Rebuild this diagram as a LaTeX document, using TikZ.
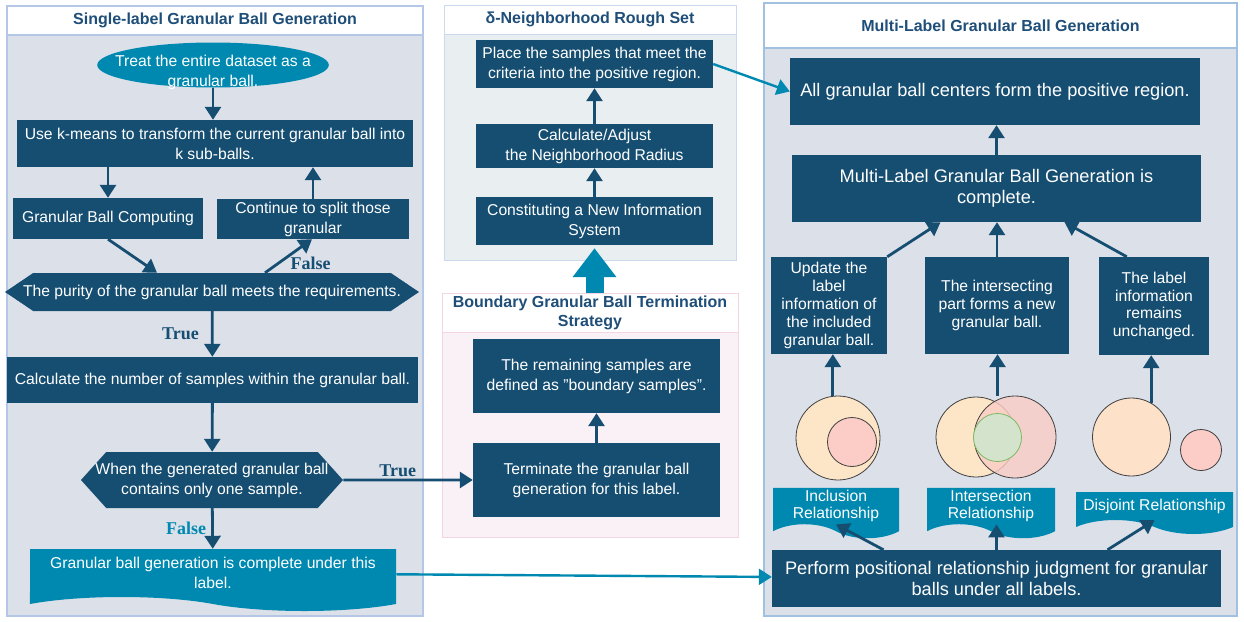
\documentclass[tikz,border=0pt]{standalone}
\usepackage{fontspec}
\setmainfont{Liberation Sans}
\newfontfamily\tfserif{Liberation Serif}
\usetikzlibrary{shapes.geometric,shapes.symbols,arrows.meta}
\definecolor{navy}{RGB}{22,78,114}
\definecolor{sea}{RGB}{0,137,176}
\definecolor{titleblue}{RGB}{31,78,121}
\definecolor{panelgray}{RGB}{220,224,233}
\definecolor{panelmist}{RGB}{233,238,240}
\definecolor{panelpink}{RGB}{250,241,247}
\definecolor{lineblue}{RGB}{180,199,231}
\definecolor{linepink}{RGB}{242,214,228}
\definecolor{peach}{RGB}{253,229,200}
\definecolor{rose}{RGB}{251,205,198}
\definecolor{mint}{RGB}{212,228,204}
\definecolor{leaf}{RGB}{125,184,97}
\newcommand\boxfont{\fontsize{15.7}{20}\selectfont}
\newcommand\smallboxfont{\fontsize{15.7}{17.8}\selectfont}
\newcommand\bigboxfont{\fontsize{18.2}{21}\selectfont}
\newcommand\titlefont{\bfseries\fontsize{16}{19}\selectfont}
\tikzset{
  lab/.style={font=\tfserif\bfseries\fontsize{18}{18}\selectfont, text=navy, inner sep=2pt},
  hexa/.style={signal, signal to=west and east, inner xsep=-12pt},
  doc/.style={tape, tape bend top=none, tape bend bottom=out and in, tape bend height=14pt},
  ball/.style={circle, draw=black!75, line width=0.8pt, inner sep=0pt}
}
\begin{document}
\begin{tikzpicture}[x=1pt,y=-1pt]
  \useasboundingbox (0,0) rectangle (1244,621);
  \filldraw[draw=lineblue, fill=panelgray, line width=1.5pt] (7,6) rectangle (423,616);
  \filldraw[draw=lineblue!70, fill=panelmist, line width=1pt] (444,5) rectangle (736,260);
  \filldraw[draw=linepink, fill=panelpink, line width=1pt] (442,293) rectangle (738,537);
  \filldraw[draw=lineblue!90!sea, fill=panelgray, line width=1.5pt] (764,3) rectangle (1237,616);
  \begin{scope}[every node/.style={fill=white, text=titleblue, font=\titlefont, align=center, inner sep=0pt}]
  \node[draw=lineblue, line width=1.5pt, minimum width=416pt, minimum height=29pt] (ta) at (215,20.5) {Single-label Granular Ball Generation};
  \node[draw=lineblue!70, line width=1pt, minimum width=292pt, minimum height=29pt] (tb) at (590,19.5) {δ-Neighborhood Rough Set};
  \node[draw=linepink, line width=1pt, minimum width=296pt, minimum height=39pt] (tc) at (590,312.5) {Boundary Granular Ball Termination\\Strategy};
  \node[draw=lineblue!90!sea, line width=1.5pt, minimum width=473pt, minimum height=45pt] (td) at (1000.5,25.5) {Multi-Label Granular Ball Generation};
  \end{scope}
  \begin{scope}[every node/.style={fill=navy, text=white, font=\boxfont, align=center, inner sep=2pt}]
  \node[ellipse, fill=sea, inner xsep=-16pt, inner ysep=0pt, minimum width=230pt, minimum height=45pt] (a) at (213,65) {\raisebox{-11pt}[0pt][0pt]{\begin{tabular}{@{}c@{}}Treat the entire dataset as a\\granular ball.\end{tabular}}};
  \node[minimum width=396pt, minimum height=47pt] (b) at (215,143.5) {Use k-means to transform the current granular ball into\\k sub-balls.};
  \node[minimum width=190pt, minimum height=41pt] (c) at (108,218.5) {Granular Ball Computing};
  \node[minimum width=192pt, minimum height=40pt] (d) at (313,219) {Continue to split those\\granular};
  \node[hexa, signal pointer angle=68, minimum width=414pt, minimum height=38pt] (e) at (212,292) {The purity of the granular ball meets the requirements.};
  \node[minimum width=411pt, minimum height=46pt] (f) at (212.5,380) {Calculate the number of samples within the granular ball.};
  \node[hexa, signal pointer angle=96, minimum width=262pt, minimum height=56pt] (g) at (212,480) {When the generated granular ball\\contains only one sample.};
  \node[doc, fill=sea, minimum width=366pt, minimum height=62pt] (h) at (213,573) {Granular ball generation is complete under this\\label.};
  \node[minimum width=237pt, minimum height=48pt] (i) at (594.5,64) {Place the samples that meet the\\criteria into the positive region.};
  \node[minimum width=237pt, minimum height=44pt] (j) at (594.5,146) {Calculate/Adjust\\the Neighborhood Radius};
  \node[minimum width=237pt, minimum height=48pt] (k) at (594.5,221) {Constituting a New Information\\System};
  \node[minimum width=247pt, minimum height=74pt] (l) at (596.5,376) {The remaining samples are\\defined as "boundary samples".};
  \node[minimum width=247pt, minimum height=74pt] (m) at (596.5,480) {Terminate the granular ball\\generation for this label.};
  \node[font=\bigboxfont, minimum width=410pt, minimum height=67pt] (n) at (995,91.5) {All granular ball centers form the positive region.};
  \node[font=\bigboxfont, minimum width=409pt, minimum height=67pt] (o) at (996.5,188.5) {Multi-Label Granular Ball Generation is\\complete.};
  \node[font=\smallboxfont, minimum width=116pt, minimum height=97pt] (p) at (829,305.5) {Update the\\label\\information of\\the included\\granular ball.};
  \node[font=\smallboxfont, minimum width=144pt, minimum height=97pt] (q) at (997,305.5) {The intersecting\\part forms a new\\granular ball.};
  \node[font=\smallboxfont, minimum width=110pt, minimum height=98pt] (r) at (1154,306) {The label\\information\\remains\\unchanged.};
  \node[doc, fill=sea, font=\smallboxfont, minimum width=126pt, minimum height=42pt] (s) at (836,506) {Inclusion\\Relationship};
  \node[doc, fill=sea, font=\smallboxfont, minimum width=128pt, minimum height=42pt] (t) at (991,506) {Intersection\\Relationship};
  \node[doc, fill=sea, minimum width=157pt, minimum height=42pt] (u) at (1154.5,506) {Disjoint Relationship};
  \node[font=\bigboxfont, minimum width=449pt, minimum height=57pt] (v) at (996.5,578.5) {Perform positional relationship judgment for granular\\balls under all labels.};
  \end{scope}
  \begin{scope}[every node/.style={ball}]
  \node[fill=peach, minimum size=84pt] (w1) at (838,438) {};
  \node[fill=rose, minimum size=49pt] (w2) at (852,442) {};
  \node[fill=peach, minimum size=80pt] (x1) at (976,437) {};
  \node[fill=rose, fill opacity=0.8, minimum size=82pt] (x2) at (1015,437) {};
  \node[fill=mint, draw=leaf, minimum size=48pt] (x3) at (997.5,437.5) {};
  \node[fill=peach!85!rose, minimum size=78pt] (y1) at (1131.5,437) {};
  \node[fill=rose, minimum size=41pt] (y2) at (1201,450) {};
  \end{scope}
  \begin{scope}[every edge/.style={draw=navy, line width=2.8pt, -{Triangle[width=16pt,length=13pt]}}]
  \path (a) edge (a |- b.north);
  \path (b.south -| c) edge (c);
  \path (d) edge (d |- b.south);
  \path (c.south) edge ([xshift=-55pt]e.north);
  \path ([xshift=53pt]e.north) edge node[lab, pos=0.28, right=9pt] {False} ([xshift=-1pt]d.south);
  \path (e) edge node[lab, left=10pt] {True} (f);
  \path (f) edge (g);
  \path (g) edge node[lab, pos=0.42, above] {True} (m);
  \path (g) edge node[lab, text=sea, left=3pt] {False} (h);
  \path (h) edge[draw=sea, line width=2.4pt] (v);
  \path (k) edge (j);
  \path (j) edge (i);
  \path (m) edge (l);
  \path (k |- tc.north) edge[draw=sea, line width=18pt, shorten >=3pt, -{Triangle[width=42pt,length=29pt]}] (k);
  \path (i.east) edge[draw=sea, line width=2.4pt] (n.west);
  \path (o) edge (o |- n.south);
  \path (p.north east) edge ([xshift=-56pt]o.south);
  \path (q) edge (q |- o.south);
  \path ([xshift=28pt]r.north west) edge ([xshift=68pt]o.south);
  \path (w1.97) edge (w1.97 |- p.south);
  \path ([yshift=17pt]x3.north) edge (x3 |- q.south);
  \path (y1.60) edge (y1.60 |- r.south);
  \path ([xshift=-113pt]v.north) edge (s.south);
  \path (v) edge (v |- t.south);
  \path ([xshift=111pt]v.north) edge (u.south);
  \end{scope}
\end{tikzpicture}
\end{document}
